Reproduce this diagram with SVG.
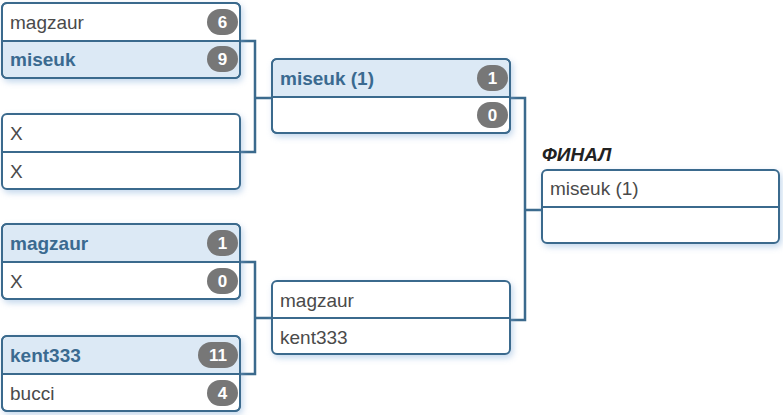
<svg xmlns="http://www.w3.org/2000/svg" width="783" height="415" viewBox="0 0 783 415">
<style>
.box{fill:#fff;stroke:#3b6a8d;stroke-width:2}
.win{fill:#dce9f5}
.div{stroke:#3b6a8d;stroke-width:2}
.t{font-family:"Liberation Sans",Arial,sans-serif;font-size:19px;fill:#4a4a4a}
.tw{font-family:"Liberation Sans",Arial,sans-serif;font-size:19px;font-weight:bold;fill:#3a6a90}
.badge{fill:#777}
.bt{font-family:"Liberation Sans",Arial,sans-serif;font-size:17px;font-weight:bold;fill:#fff;text-anchor:middle}
.conn{fill:none;stroke:#3b6a8d;stroke-width:2.5}
.title{font-family:"Liberation Sans",Arial,sans-serif;font-size:19px;font-weight:bold;font-style:italic;fill:#222}
</style>
<defs>
<filter id="sh" x="-10%" y="-20%" width="125%" height="150%">
<feDropShadow dx="2" dy="3" stdDeviation="3" flood-color="#7aa8d6" flood-opacity="0.45"/>
</filter>
</defs>
<g id="connectors">
<path class="conn" d="M240 41 H255 V152 H240 M255 98 H272"/>
<path class="conn" d="M240 262 H255 V374 H240 M255 318 H272"/>
<path class="conn" d="M510 98 H525 V320 H510 M525 210 H542"/>
</g>
<g id="m1">
<g filter="url(#sh)"><rect class="box" x="2" y="3" width="238" height="75" rx="5"/></g>
<path class="win" d="M3 41 H239 V72 a5 5 0 0 1 -5 5 H8 a5 5 0 0 1 -5 -5 Z"/>
<rect x="2" y="3" width="238" height="75" rx="5" fill="none" stroke="#3b6a8d" stroke-width="2"/>
<line class="div" x1="2" y1="41" x2="240" y2="41"/>
<text class="t" x="10" y="28.5">magzaur</text>
<rect class="badge" x="207" y="9" width="31" height="26" rx="13"/><text class="bt" x="222.5" y="28">6</text>
<text class="tw" x="10" y="66">miseuk</text>
<rect class="badge" x="207" y="46" width="31" height="26" rx="13"/><text class="bt" x="222.5" y="65">9</text>
</g>
<g id="m2">
<g filter="url(#sh)"><rect class="box" x="2" y="114" width="238" height="75" rx="5"/></g>
<line class="div" x1="2" y1="152" x2="240" y2="152"/>
<text class="t" x="10" y="139.5">X</text>
<text class="t" x="10" y="177.5">X</text>
</g>
<g id="m3">
<g filter="url(#sh)"><rect class="box" x="2" y="224" width="238" height="75" rx="5"/></g>
<path class="win" d="M8 225 H234 a5 5 0 0 1 5 5 V262 H3 V230 a5 5 0 0 1 5 -5 Z"/>
<rect x="2" y="224" width="238" height="75" rx="5" fill="none" stroke="#3b6a8d" stroke-width="2"/>
<line class="div" x1="2" y1="262" x2="240" y2="262"/>
<text class="tw" x="10" y="249.5">magzaur</text>
<rect class="badge" x="207" y="230" width="31" height="26" rx="13"/><text class="bt" x="222.5" y="249">1</text>
<text class="t" x="10" y="287.5">X</text>
<rect class="badge" x="207" y="268" width="31" height="26" rx="13"/><text class="bt" x="222.5" y="287">0</text>
</g>
<g id="m4">
<g filter="url(#sh)"><rect class="box" x="2" y="336" width="238" height="75" rx="5"/></g>
<path class="win" d="M8 337 H234 a5 5 0 0 1 5 5 V374 H3 V342 a5 5 0 0 1 5 -5 Z"/>
<rect x="2" y="336" width="238" height="75" rx="5" fill="none" stroke="#3b6a8d" stroke-width="2"/>
<line class="div" x1="2" y1="374" x2="240" y2="374"/>
<text class="tw" x="10" y="361.5">kent333</text>
<rect class="badge" x="198" y="342" width="40" height="26" rx="13"/><text class="bt" x="218" y="361">11</text>
<text class="t" x="10" y="399.5">bucci</text>
<rect class="badge" x="207" y="380" width="31" height="26" rx="13"/><text class="bt" x="222.5" y="399">4</text>
</g>
<g id="r2a">
<g filter="url(#sh)"><rect class="box" x="272" y="59" width="238" height="74" rx="5"/></g>
<path class="win" d="M278 60 H504 a5 5 0 0 1 5 5 V97 H273 V65 a5 5 0 0 1 5 -5 Z"/>
<rect x="272" y="59" width="238" height="74" rx="5" fill="none" stroke="#3b6a8d" stroke-width="2"/>
<line class="div" x1="272" y1="97" x2="510" y2="97"/>
<text class="tw" x="280" y="84.5">miseuk (1)</text>
<rect class="badge" x="477" y="65" width="31" height="26" rx="13"/><text class="bt" x="492.5" y="84">1</text>
<rect class="badge" x="477" y="102" width="31" height="26" rx="13"/><text class="bt" x="492.5" y="121">0</text>
</g>
<g id="r2b">
<g filter="url(#sh)"><rect class="box" x="272" y="281" width="238" height="73" rx="5"/></g>
<line class="div" x1="272" y1="318" x2="510" y2="318"/>
<text class="t" x="280" y="306.5">magzaur</text>
<text class="t" x="280" y="343.5">kent333</text>
</g>
<g id="final">
<text class="title" x="542" y="161">ФИНАЛ</text>
<g filter="url(#sh)"><rect class="box" x="542" y="170" width="237" height="73" rx="5"/></g>
<line class="div" x1="542" y1="207" x2="779" y2="207"/>
<text class="t" x="550" y="194.5">miseuk (1)</text>
</g>
</svg>
